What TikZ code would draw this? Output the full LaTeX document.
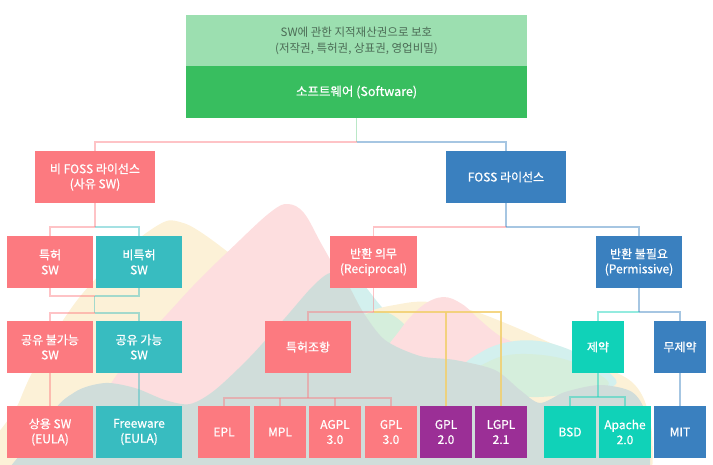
\documentclass[tikz,border=0pt]{standalone}
\usepackage{fontspec}
\setmainfont{Noto Sans CJK KR}
\newfontfamily\boxfont{Noto Sans CJK KR}[FakeBold=0.7]
\usetikzlibrary{calc}
\definecolor{pinkc}{HTML}{FC7A80}
\definecolor{tealc}{HTML}{38BCC0}
\definecolor{bluec}{HTML}{3A80BF}
\definecolor{purpc}{HTML}{9B2F96}
\definecolor{turqc}{HTML}{10D2B8}
\definecolor{lgreenc}{HTML}{9CDFB0}
\definecolor{dgreenc}{HTML}{38BE5F}
\definecolor{toptext}{HTML}{4B6B55}
\definecolor{yellc}{HTML}{F2CF6E}
\definecolor{bgY}{HTML}{FCF1D7}
\definecolor{bgP}{HTML}{FDDEDF}
\definecolor{bgT}{HTML}{D3F0EE}
\definecolor{bgG}{HTML}{D5EEDC}
\definecolor{bgK}{HTML}{D0DDDA}
\tikzset{
  box/.style={rectangle, inner sep=0pt, align=center, text=white,
    font=\boxfont\fontsize{12}{15}\selectfont, minimum height=52pt},
  wide/.style={minimum width=86pt},
  narrow/.style={minimum width=52pt},
  conn/.style={line width=1.3pt},
  cpink/.style={conn, draw=pinkc, draw opacity=0.45},
  cteal/.style={conn, draw=tealc, draw opacity=0.45},
  cblue/.style={conn, draw=bluec, draw opacity=0.45},
  cturq/.style={conn, draw=turqc, draw opacity=0.45},
  cgreen/.style={conn, draw=dgreenc, draw opacity=0.35},
  cyell/.style={conn, draw=yellc, draw opacity=0.85},
}
\begin{document}
\begin{tikzpicture}[x=1pt,y=-1pt]
\useasboundingbox (0,0) rectangle (713,464);
% background hills
\begin{scope}
\clip (0,0) rectangle (713,464);
\fill[bgT] plot[smooth cycle, tension=0.6] coordinates {(230,520) (290,330) (320,285) (340,266) (358,278) (380,305) (405,332) (440,360) (480,420) (500,520)};
\fill[bgY] plot[smooth cycle, tension=0.6] coordinates {(-10,520) (20,400) (70,310) (120,255) (160,224) (180,222) (205,235) (250,270) (300,315) (350,365) (400,420) (440,520)};
\fill[bgP] plot[smooth cycle, tension=0.6] coordinates {(40,520) (110,385) (180,300) (240,240) (272,211) (288,204) (304,213) (322,245) (345,285) (368,320) (395,350) (430,410) (450,520)};
\fill[bgY] plot[smooth cycle, tension=0.6] coordinates {(330,520) (345,340) (365,314) (400,304) (430,302) (470,310) (510,325) (555,345) (600,365) (635,385) (650,420) (652,470) (640,520)};
\fill[bgG] plot[smooth cycle, tension=0.6] coordinates {(350,335) (362,316) (385,312) (405,325) (418,345) (395,352) (365,350)};
\fill[bgP] plot[smooth cycle, tension=0.6] coordinates {(385,360) (400,330) (422,306) (443,297) (462,304) (480,320) (500,336) (525,348) (540,365) (500,380) (430,380)};
\fill[bgT] plot[smooth cycle, tension=0.6] coordinates {(460,372) (485,350) (515,341) (545,342) (575,352) (600,366) (615,385) (560,395) (500,390)};
\fill[bgG] plot[smooth cycle, tension=0.6] coordinates {(470,378) (492,360) (520,354) (560,358) (595,372) (608,386) (570,394) (520,396)};
\fill[bgK] plot[smooth cycle, tension=0.5] coordinates {(30,520) (50,420) (75,392) (105,383) (135,388) (165,400) (190,404) (215,390) (250,357) (285,318) (312,287) (330,273) (345,280) (363,312) (385,340) (420,356) (455,360) (495,370) (520,390) (540,403) (565,392) (600,385) (632,392) (646,415) (650,465) (640,520)};
\end{scope}
% boxes
\node[box, fill=lgreenc, minimum width=341pt, minimum height=51pt, text=toptext, font=\fontsize{11.5}{16}\selectfont] (lg) at (356.5,40.5) {SW에 관한 지적재산권으로 보호\\(저작권, 특허권, 상표권, 영업비밀)};
\node[box, fill=dgreenc, minimum width=341pt, font=\boxfont\fontsize{12.5}{15}\selectfont] (sw) at (356.5,92) {소프트웨어 (Software)};
\node[box, fill=pinkc, minimum width=120pt] (nf) at (95,177) {비 FOSS 라이선스\\(사유 SW)};
\node[box, fill=bluec, minimum width=120pt] (foss) at (506,177) {FOSS 라이선스};
\node[box, wide, fill=pinkc] (tp) at (50,262) {특허\\SW};
\node[box, wide, fill=tealc] (ntp) at (139,262) {비특허\\SW};
\node[box, minimum width=87pt, fill=pinkc] (rec) at (373.5,262) {반환 의무\\(Reciprocal)};
\node[box, wide, fill=bluec] (per) at (639,262) {반환 불필요\\(Permissive)};
\node[box, wide, fill=pinkc] (nsh) at (50,347) {공유 불가능\\SW};
\node[box, wide, fill=tealc] (sh) at (139,347) {공유 가능\\SW};
\node[box, wide, fill=pinkc] (pat) at (308,347) {특허조항};
\node[box, narrow, fill=turqc] (res) at (598,347) {제약};
\node[box, narrow, fill=bluec] (unres) at (680,347) {무제약};
\node[box, wide, fill=pinkc] (com) at (50,432) {상용 SW\\(EULA)};
\node[box, wide, fill=tealc] (free) at (139,432) {Freeware\\(EULA)};
\node[box, narrow, fill=pinkc] (epl) at (224,432) {EPL};
\node[box, narrow, fill=pinkc] (mpl) at (280,432) {MPL};
\node[box, narrow, fill=pinkc] (agpl) at (335,432) {AGPL\\3.0};
\node[box, narrow, fill=pinkc] (gpl3) at (391,432) {GPL\\3.0};
\node[box, narrow, fill=purpc] (gpl2) at (446,432) {GPL\\2.0};
\node[box, narrow, fill=purpc] (lgpl) at (501,432) {LGPL\\2.1};
\node[box, narrow, fill=turqc] (bsd) at (570,432) {BSD};
\node[box, narrow, fill=turqc] (apache) at (625,432) {Apache\\2.0};
\node[box, narrow, fill=bluec] (mit) at (680,432) {MIT};
% junctions
\coordinate (j0) at (356.5,142);
\coordinate (j1) at (95,227);
\coordinate (j2) at (94.5,296);
\coordinate (j3) at (94.5,313);
\coordinate (j4) at (506,227);
\coordinate (j5) at (373.5,312);
\coordinate (j6) at (308,398);
\coordinate (j7) at (639,312);
\coordinate (j8) at (598,397);
% connectors
\draw[cgreen] (sw.south) -- (j0);
\draw[cpink] (j0) -| (nf.north);
\draw[cblue] (j0) -| (foss.north);
\draw[cpink] (nf.south) -- (j1);
\draw[cpink] (j1) -| (tp.north);
\draw[cteal] (j1) -| (ntp.north);
\draw[cpink] (tp.south) |- (j2);
\draw[cteal] (ntp.south) |- (j2);
\draw[cteal] (j2) -- (j3);
\draw[cpink] (j3) -| (nsh.north);
\draw[cteal] (j3) -| (sh.north);
\draw[cpink] (nsh) -- (com);
\draw[cteal] (sh) -- (free);
\draw[cblue] (foss.south) -- (j4);
\draw[cpink] (j4) -| (rec.north);
\draw[cblue] (j4) -| (per.north);
\draw[cpink] (rec.south) -- (j5);
\draw[cpink] (j5) -| (pat.north);
\draw[cyell] (j5) -| (lgpl.north);
\draw[cyell] (gpl2.north) -- (gpl2.north |- j5);
\draw[cpink] (pat.south) -- (j6);
\draw[cpink] (epl.north) |- (j6) -| (gpl3.north);
\draw[cpink] (mpl.north) -- (mpl.north |- j6);
\draw[cpink] (agpl.north) -- (agpl.north |- j6);
\draw[cblue] (per.south) -- (j7);
\draw[cturq] (j7) -| (res.north);
\draw[cblue] (j7) -| (unres.north);
\draw[cturq] (res.south) -- (j8);
\draw[cturq] (bsd.north) |- (j8) -| (apache.north);
\draw[cblue] (unres) -- (mit);
\end{tikzpicture}
\end{document}
